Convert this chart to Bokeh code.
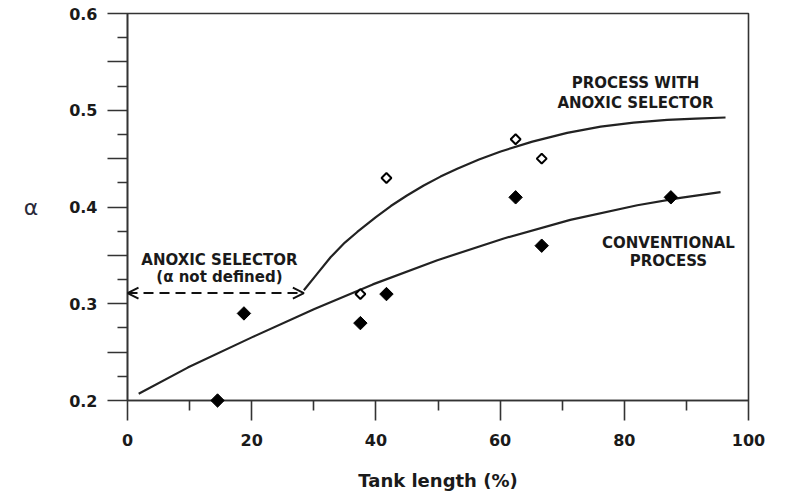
import numpy as np
from bokeh.plotting import figure
from bokeh.models import FixedTicker, CustomJSTickFormatter, Arrow, OpenHead, Label
from bokeh.embed import file_html
from bokeh.resources import INLINE

# ---- data ----
conv_curve_x = [1.8, 9.7, 20.1, 30.1, 39.5, 49.9, 60.6, 71.3, 82.1, 89.0, 95.5]
conv_curve_y = [0.207, 0.234, 0.2655, 0.2945, 0.320, 0.345, 0.3675, 0.3867, 0.4018, 0.4094, 0.4153]

anox_curve_x = [28.4, 30.5, 32.7, 35.0, 37.0, 40.0, 42.4, 45.0, 47.7, 50.4, 53.1,
                56.6, 60.1, 65.2, 70.8, 76.2, 81.5, 86.9, 91.5, 96.3]
anox_curve_y = [0.314, 0.3306, 0.348, 0.3632, 0.3742, 0.3896, 0.401, 0.4119, 0.4222, 0.4314, 0.4395,
                0.449, 0.4574, 0.4676, 0.4766, 0.4831, 0.4873, 0.490, 0.4914, 0.4925]

conv_pts_x = [14.5, 18.75, 37.5, 41.7, 62.5, 66.7, 87.5]
conv_pts_y = [0.20, 0.29, 0.28, 0.31, 0.41, 0.36, 0.41]

anox_pts_x = [37.5, 41.7, 62.5, 66.7]
anox_pts_y = [0.31, 0.43, 0.47, 0.45]

arrow_x0 = 0
arrow_y = 0.311

x_ticks = [0, 20, 40, 60, 80, 100]
x_minor_ticks = [10, 30, 50, 70, 90]
y_ticks = [0.2, 0.25, 0.3, 0.35, 0.4, 0.45, 0.5, 0.55, 0.6]
y_tick_labels = ["0.2", "", "0.3", "", "0.4", "", "0.5", "", "0.6"]
y_minor_ticks = [0.225, 0.275, 0.325, 0.375, 0.425, 0.475, 0.525, 0.575]

FONT = "DejaVu Sans"
INK = "#1a1a1a"

p = figure(width=788, height=498, output_backend="svg", toolbar_location=None,
           x_range=(0, 100), y_range=(0.2, 0.6),
           min_border_left=127, min_border_right=40, min_border_top=13, min_border_bottom=98)
p.background_fill_color = "white"
p.border_fill_color = "white"
p.outline_line_color = "#333333"
p.outline_line_width = 1.6
p.xgrid.visible = False
p.ygrid.visible = False

# axes
xa = p.xaxis[0]
ya = p.yaxis[0]
xa.ticker = FixedTicker(ticks=x_ticks, minor_ticks=x_minor_ticks)
ya.ticker = FixedTicker(ticks=y_ticks, minor_ticks=y_minor_ticks)
ya.formatter = CustomJSTickFormatter(args=dict(vals=y_ticks, labs=y_tick_labels), code="""
let best = 0;
for (let i = 0; i < vals.length; i++) {
  if (Math.abs(vals[i] - tick) < Math.abs(vals[best] - tick)) best = i;
}
return labs[best];
""")
for ax in (xa, ya):
    ax.axis_line_color = "#333333"
    ax.axis_line_width = 1.6
    ax.major_tick_line_color = "#333333"
    ax.minor_tick_line_color = "#333333"
    ax.major_tick_line_width = 1.6
    ax.minor_tick_line_width = 1.6
    ax.major_tick_in = 0
    ax.major_tick_out = 20
    ax.minor_tick_in = 0
    ax.minor_tick_out = 10
    ax.major_label_text_font = FONT
    ax.major_label_text_font_style = "bold"
    ax.major_label_text_font_size = "16px"
    ax.major_label_text_color = INK

xa.major_label_standoff = 13
ya.major_label_standoff = 10
xa.axis_label = "Tank length (%)"
xa.axis_label_text_font = FONT
xa.axis_label_text_font_style = "bold"
xa.axis_label_text_font_size = "18px"
xa.axis_label_text_color = INK
xa.axis_label_standoff = 21

ya.axis_label = "α"
ya.axis_label_orientation = "horizontal"
ya.axis_label_text_font = FONT
ya.axis_label_text_font_style = "normal"
ya.axis_label_text_font_size = "22px"
ya.axis_label_text_color = "#2a2a3a"
ya.axis_label_standoff = 28

# curves
p.line(conv_curve_x, conv_curve_y, line_color="#222222", line_width=2.2, line_join="round")
p.line(anox_curve_x, anox_curve_y, line_color="#222222", line_width=2.2, line_join="round")

# points
p.scatter(conv_pts_x, conv_pts_y, marker="square", angle=np.pi / 4, size=9.5,
          fill_color="black", line_color="black", line_width=1, level="overlay")
p.scatter(anox_pts_x, anox_pts_y, marker="square", angle=np.pi / 4, size=7,
          fill_color="white", line_color="black", line_width=2, level="overlay")

# dashed double arrow
arrow = Arrow(x_start=arrow_x0, y_start=arrow_y, x_end=anox_curve_x[0], y_end=arrow_y,
              line_dash="10 6", line_width=2, line_color="#111111",
              start=OpenHead(size=11, line_width=2, line_color="#111111"),
              end=OpenHead(size=11, line_width=2, line_color="#111111"))
p.add_layout(arrow)

# annotations
def add_text(x, y, txt):
    p.add_layout(Label(x=x, y=y, text=txt, text_font=FONT, text_font_style="bold",
                       text_font_size="15px", text_color=INK,
                       text_align="center", text_baseline="alphabetic"))

add_text(81.8, 0.528, "PROCESS WITH")
add_text(81.8, 0.5077, "ANOXIC SELECTOR")
add_text(87.1, 0.3626, "CONVENTIONAL")
add_text(87.1, 0.3447, "PROCESS")
add_text(14.8, 0.3454, "ANOXIC SELECTOR")
add_text(14.8, 0.3277, "(α not defined)")

open("out.html", "w").write(file_html(p, INLINE))
